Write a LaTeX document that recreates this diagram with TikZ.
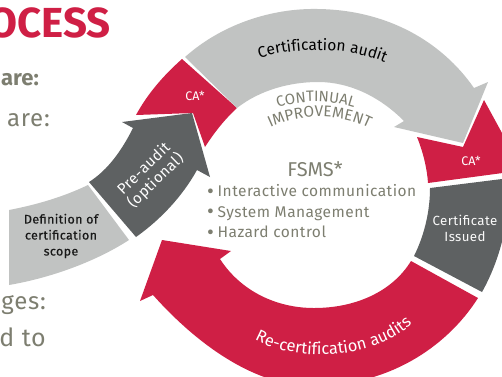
\documentclass[tikz,border=0pt]{standalone}
\usepackage{fontspec}
\setmainfont{Fira Sans}
\usetikzlibrary{decorations.text}
\definecolor{crim}{HTML}{CF1F45}
\definecolor{lgrey}{HTML}{C1C3C2}
\definecolor{dgrey}{HTML}{5E6162}
\definecolor{olive}{HTML}{7D7E70}
\newcommand{\bul}{\makebox[10.5pt][l]{\fontsize{21}{20.5}\selectfont\raisebox{-1.5pt}{•}}}
\tikzset{
  seg/.style={draw=none},
  lbl/.style={inner sep=0pt,align=center},
  bg/.style={inner sep=0pt,anchor=base east,text=olive}
}
\begin{document}
\begin{tikzpicture}[x=1pt,y=-1pt]
\useasboundingbox (0,0) rectangle (502,376);
\clip (0,0) rectangle (502,376);
% left page text
\node[bg,text=crim,font=\fontsize{42}{42}\selectfont\bfseries] (title) at (111,37) {OCESS};
\node[bg,font=\fontsize{22}{24}\selectfont\bfseries] (t1) at (39,85) {are:};
\node[bg,font=\fontsize{24}{24}\selectfont\addfontfeature{LetterSpace=3}] (t2) at (50,126) {are:};
\node[bg,font=\fontsize{24}{24}\selectfont\addfontfeature{LetterSpace=3}] (t3) at (46,309) {ges:};
\node[bg,font=\fontsize{25}{25}\selectfont\addfontfeature{LetterSpace=3}] (t4) at (46,346) {ed to};
% definition
\fill[lgrey,seg] (9,210) .. controls (40,204) and (65,196) .. (88,185) -- (129,240)
  .. controls (95,262) and (50,278) .. (9,285) -- cycle;
% pre-audit arrow
\fill[dgrey,seg] (89,182) .. controls (108,170) and (122,150) .. (133,128) -- (122,122) -- (192,113) -- (210,177)
  -- (197,170) .. controls (182,197) and (160,220) .. (136,237) -- cycle;
% CA left
\fill[crim,seg] (136,115) .. controls (148,93) and (164,75) .. (182,59) -- (237,108) .. controls (224,120) and (214,133) .. (205,147)
  -- (193,113) -- cycle;
% certification audit
\fill[lgrey,seg] (185,57) .. controls (222,24) and (272,8) .. (318,9) .. controls (388,10) and (442,42) .. (474,88)
  -- (488,82) -- (463,143) -- (394,127) -- (404,121) .. controls (380,97) and (350,82) .. (318,82)
  .. controls (290,82) and (260,90) .. (237,108) -- cycle;
% CA right
\fill[crim,seg] (484,100) -- (502,133) -- (510,172) -- (428,183) .. controls (427,168) and (423,152) .. (417,137) -- (463,147) -- cycle;
% certificate issued
\fill[dgrey,seg] (430,188) -- (510,178) .. controls (510,220) and (500,260) .. (482,292) -- (414,256)
  .. controls (424,236) and (430,212) .. (430,188) -- cycle;
% re-certification
\fill[crim,seg] (162,240) -- (231,251) -- (220,259) .. controls (240,290) and (275,308) .. (314,308)
  .. controls (355,308) and (392,292) .. (411,261) -- (478,298) .. controls (445,350) and (385,385) .. (320,385)
  .. controls (285,390) and (222,372) .. (153,295) -- (140,301) -- cycle;
% labels
\node[lbl,text=black!90,font=\fontsize{12.5}{16}\selectfont\addfontfeature{FakeBold=0.4,LetterSpace=3}] (defn) at (61,236) {Definition of\\certification\\scope};
\node[lbl,text=white,font=\fontsize{12.5}{13}\selectfont] (ca1) at (195,96) {CA*};
\node[lbl,text=white,font=\fontsize{12.5}{13}\selectfont] (ca2) at (471,161) {CA*};
\node[lbl,text=white!90!lgrey,font=\fontsize{13.3}{16}\selectfont\addfontfeature{LetterSpace=3}] (cert) at (465,228) {Certificate\\Issued};
\node[lbl,text=white,rotate=44,font=\fontsize{15}{17}\selectfont\addfontfeature{LetterSpace=3}] (pre) at (150,175) {Pre-audit\\(optional)};
\node[text=olive,inner sep=0pt,font=\fontsize{20}{20}\selectfont] (fsms) at (315,169) {FSMS*};
\node[text=olive,inner sep=0pt,anchor=north west,align=left,font=\fontsize{15.5}{20.5}\selectfont\addfontfeature{LetterSpace=3}] (list) at (207,184.5) {\bul Interactive communication\\\bul System Management\\\bul Hazard control};
% curved labels
\path[postaction={decorate,decoration={text along path,text align=center,
   text={|\fontsize{15.5}{16}\selectfont\addfontfeature{LetterSpace=3}|Certification audit}}}]
   (254,60) .. controls (290,47) and (350,45) .. (390,65);
\path[postaction={decorate,decoration={text along path,text align=center,
   text={|\fontsize{15}{15}\selectfont\color{olive}\addfontfeature{LetterSpace=5}|CONTINUAL}}}]
   (272,110) .. controls (295,99) and (335,99) .. (360,110);
\path[postaction={decorate,decoration={text along path,text align=center,
   text={|\fontsize{15.5}{15}\selectfont\color{olive}\addfontfeature{LetterSpace=5}|IMPROVEMENT}}}]
   (263,131) .. controls (295,112) and (345,112) .. (376,132);
\path[postaction={decorate,decoration={text along path,text align=center,
   text={|\fontsize{16.4}{17}\selectfont\color{white}\addfontfeature{LetterSpace=3}|Re-certification audits}}}]
   (250,337) .. controls (290,362) and (372,364) .. (416,320);
\end{tikzpicture}
\end{document}
